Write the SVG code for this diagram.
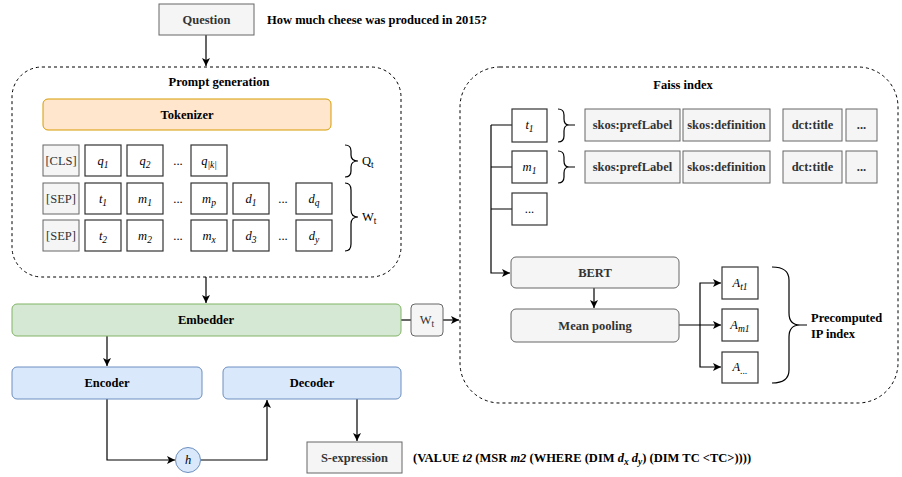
<svg xmlns="http://www.w3.org/2000/svg" width="902" height="477" viewBox="0 0 902 477">
<defs>
<marker id="arr" markerWidth="10" markerHeight="10" refX="9" refY="5" orient="auto" markerUnits="userSpaceOnUse">
<path d="M1,1 L9,5 L1,9 L3,5 z" fill="#000"/>
</marker>
<style>
text{font-family:"Liberation Serif","Times New Roman",serif;font-size:12.5px;fill:#000}
.b{font-weight:bold}
.c{text-anchor:middle}
.i{font-style:italic}
.g{fill:#333}
.sub{font-size:9.5px}
.gray{fill:#f5f5f5;stroke:#666;stroke-width:1}
.tok{fill:#fff;stroke:#333;stroke-width:1.2}
.dash{fill:none;stroke:#000;stroke-width:1;stroke-dasharray:3,3}
.ln{fill:none;stroke:#000;stroke-width:1.2}
.br{fill:none;stroke:#000;stroke-width:1.2}
</style>
</defs>
<rect width="902" height="477" fill="#fff"/>

<g id="connectors">
<path class="ln" d="M206,35 L206,66" marker-end="url(#arr)"/>
<path class="ln" d="M206,277 L206,303" marker-end="url(#arr)"/>
<path class="ln" d="M401,320 L411,320"/>
<path class="ln" d="M443,320 L459,320" marker-end="url(#arr)"/>
<path class="ln" d="M107,336 L107,366" marker-end="url(#arr)"/>
<path class="ln" d="M107,399 L107,460 L175,460" marker-end="url(#arr)"/>
<path class="ln" d="M201,460 L267,460 L267,400" marker-end="url(#arr)"/>
<path class="ln" d="M357,399 L357,441" marker-end="url(#arr)"/>
<path class="ln" d="M491,125 L491,273 L510,273" marker-end="url(#arr)"/>
<path class="ln" d="M491,125 L512,125 M491,167 L512,167 M491,209 L512,209"/>
<path class="ln" d="M594,288 L594,308" marker-end="url(#arr)"/>
<path class="ln" d="M679,325 L721,325" marker-end="url(#arr)"/>
<path class="ln" d="M700,325 L700,283 L721,283" marker-end="url(#arr)"/>
<path class="ln" d="M700,325 L700,367 L721,367" marker-end="url(#arr)"/>
</g>

<g id="question">
<rect class="gray" x="159" y="4" width="95" height="31"/>
<text class="b c g" x="206.5" y="24">Question</text>
</g>
<text class="b" x="267" y="24">How much cheese was produced in 2015?</text>

<g id="prompt-generation">
<rect class="dash" x="12" y="67" width="389" height="210" rx="30" ry="30"/>
<text class="b c" x="219" y="86">Prompt generation</text>
</g>

<g id="tokenizer">
<rect x="43" y="99" width="288" height="31" rx="5" fill="#ffe6cc" stroke="#d79b00" stroke-width="1"/>
<text class="b c" x="187" y="119">Tokenizer</text>
</g>

<g id="tokens">
<rect class="gray" x="43" y="145" width="36" height="31"/>
<text class="c g" x="61" y="165">[CLS]</text>
<rect class="tok" x="85" y="145" width="36" height="31"/>
<text class="c i" x="103" y="165">q<tspan class="sub" dy="3">1</tspan></text>
<rect class="tok" x="127" y="145" width="36" height="31"/>
<text class="c i" x="145" y="165">q<tspan class="sub" dy="3">2</tspan></text>
<text class="c" x="178" y="165">...</text>
<rect class="tok" x="191" y="145" width="36" height="31"/>
<text class="c i" x="209" y="165">q<tspan class="sub" dy="3">|k|</tspan></text>

<rect class="gray" x="43" y="183" width="36" height="31"/>
<text class="c g" x="61" y="203">[SEP]</text>
<rect class="tok" x="85" y="183" width="36" height="31"/>
<text class="c i" x="103" y="203">t<tspan class="sub" dy="3">1</tspan></text>
<rect class="tok" x="127" y="183" width="36" height="31"/>
<text class="c i" x="145" y="203">m<tspan class="sub" dy="3">1</tspan></text>
<text class="c" x="178" y="203">...</text>
<rect class="tok" x="191" y="183" width="36" height="31"/>
<text class="c i" x="209" y="203">m<tspan class="sub" dy="3">p</tspan></text>
<rect class="tok" x="233" y="183" width="36" height="31"/>
<text class="c i" x="251" y="203">d<tspan class="sub" dy="3">1</tspan></text>
<text class="c" x="283" y="203">...</text>
<rect class="tok" x="296" y="183" width="36" height="31"/>
<text class="c i" x="314" y="203">d<tspan class="sub" dy="3">q</tspan></text>

<rect class="gray" x="43" y="220" width="36" height="31"/>
<text class="c g" x="61" y="240">[SEP]</text>
<rect class="tok" x="85" y="220" width="36" height="31"/>
<text class="c i" x="103" y="240">t<tspan class="sub" dy="3">2</tspan></text>
<rect class="tok" x="127" y="220" width="36" height="31"/>
<text class="c i" x="145" y="240">m<tspan class="sub" dy="3">2</tspan></text>
<text class="c" x="178" y="240">...</text>
<rect class="tok" x="191" y="220" width="36" height="31"/>
<text class="c i" x="209" y="240">m<tspan class="sub" dy="3">x</tspan></text>
<rect class="tok" x="233" y="220" width="36" height="31"/>
<text class="c i" x="251" y="240">d<tspan class="sub" dy="3">3</tspan></text>
<text class="c" x="283" y="240">...</text>
<rect class="tok" x="296" y="220" width="36" height="31"/>
<text class="c i" x="314" y="240">d<tspan class="sub" dy="3">y</tspan></text>
</g>

<g id="brace-qt">
<path class="br" d="M345,145 Q351,145 351,151 L351,155 Q351,161 358,161 Q351,161 351,167 L351,171 Q351,177 345,177"/>
<text x="362" y="165">Q<tspan class="sub" dy="3">t</tspan></text>
</g>
<g id="brace-wt">
<path class="br" d="M345,183 Q351,183 351,190 L351,210 Q351,217 358,217 Q351,217 351,224 L351,244 Q351,251 345,251"/>
<text x="362" y="221">W<tspan class="sub" dy="3">t</tspan></text>
</g>

<g id="embedder">
<rect x="12" y="304" width="389" height="32" rx="5" fill="#d5e8d4" stroke="#82b366" stroke-width="1"/>
<text class="b c" x="206" y="324">Embedder</text>
</g>
<g id="wt-box">
<rect class="gray" x="411" y="304" width="32" height="32" rx="4"/>
<text class="c g" x="427" y="324">W<tspan class="sub" dy="3">t</tspan></text>
</g>

<g id="encoder">
<rect x="12" y="367" width="190" height="32" rx="5" fill="#dae8fc" stroke="#6c8ebf" stroke-width="1"/>
<text class="b c" x="107" y="387">Encoder</text>
</g>
<g id="decoder">
<rect x="223" y="367" width="178" height="32" rx="5" fill="#dae8fc" stroke="#6c8ebf" stroke-width="1"/>
<text class="b c" x="312" y="387">Decoder</text>
</g>
<g id="h">
<circle cx="188" cy="460" r="12.5" fill="#dae8fc" stroke="#6c8ebf" stroke-width="1"/>
<text class="c i" x="188" y="464">h</text>
</g>
<g id="s-expression">
<rect class="gray" x="307" y="442" width="95" height="31"/>
<text class="b c g" x="354.5" y="462">S-expression</text>
</g>
<text class="b" x="413" y="462">(VALUE <tspan class="i">t2</tspan> (MSR <tspan class="i">m2</tspan> (WHERE (DIM <tspan class="i">d</tspan><tspan class="sub i" dy="3">x</tspan><tspan dy="-3"> </tspan><tspan class="i">d</tspan><tspan class="sub i" dy="3">y</tspan><tspan dy="-3">) (DIM TC &lt;TC&gt;))))</tspan></text>

<g id="faiss-index">
<rect class="dash" x="460" y="67" width="438" height="336" rx="40" ry="40"/>
<text class="b c" x="683" y="89">Faiss index</text>
</g>

<g id="t1">
<rect class="tok" x="512" y="109" width="35" height="33"/>
<text class="c i" x="529.5" y="129">t<tspan class="sub" dy="3">1</tspan></text>
</g>
<g id="m1">
<rect class="tok" x="512" y="151" width="35" height="32"/>
<text class="c i" x="529.5" y="171">m<tspan class="sub" dy="3">1</tspan></text>
</g>
<g id="dots">
<rect class="tok" x="512" y="193" width="35" height="32"/>
<text class="c" x="529.5" y="213">...</text>
</g>

<g id="brace-t1">
<path class="br" d="M558,109 Q564,109 564,115 L564,119 Q564,125 569,125 L575,125 M569,125 Q564,125 564,131 L564,136 Q564,142 558,142"/>
</g>
<g id="brace-m1">
<path class="br" d="M558,151 Q564,151 564,157 L564,161 Q564,167 569,167 L575,167 M569,167 Q564,167 564,173 L564,177 Q564,183 558,183"/>
</g>

<g id="row-t1">
<rect class="gray" x="585" y="109" width="95" height="32"/>
<text class="b c g" x="632.5" y="129">skos:prefLabel</text>
<rect class="gray" x="683" y="109" width="87" height="32"/>
<text class="b c g" x="726.5" y="129">skos:definition</text>
<rect class="gray" x="783" y="109" width="59" height="32"/>
<text class="b c g" x="812.5" y="129">dct:title</text>
<rect class="gray" x="846" y="109" width="31" height="32"/>
<text class="b c g" x="861.5" y="129">...</text>
</g>
<g id="row-m1">
<rect class="gray" x="585" y="151" width="95" height="32"/>
<text class="b c g" x="632.5" y="171">skos:prefLabel</text>
<rect class="gray" x="683" y="151" width="87" height="32"/>
<text class="b c g" x="726.5" y="171">skos:definition</text>
<rect class="gray" x="783" y="151" width="59" height="32"/>
<text class="b c g" x="812.5" y="171">dct:title</text>
<rect class="gray" x="846" y="151" width="31" height="32"/>
<text class="b c g" x="861.5" y="171">...</text>
</g>

<g id="bert">
<rect class="gray" x="511" y="257" width="168" height="31" rx="5"/>
<text class="b c g" x="595" y="277">BERT</text>
</g>
<g id="mean-pooling">
<rect class="gray" x="511" y="309" width="168" height="33" rx="5"/>
<text class="b c g" x="595" y="330">Mean pooling</text>
</g>

<g id="a-t1">
<rect class="tok" x="722" y="267" width="36" height="32"/>
<text class="c i" x="740" y="287">A<tspan class="sub" dy="3">t1</tspan></text>
</g>
<g id="a-m1">
<rect class="tok" x="722" y="309" width="36" height="32"/>
<text class="c i" x="740" y="329">A<tspan class="sub" dy="3">m1</tspan></text>
</g>
<g id="a-dots">
<rect class="tok" x="722" y="352" width="36" height="31"/>
<text class="c i" x="740" y="371">A<tspan class="sub" dy="3">...</tspan></text>
</g>

<g id="brace-ip">
<path class="br" d="M772,267 Q789,267 789,280 L789,313 Q789,325 800,325 L807,325 M800,325 Q789,325 789,337 L789,370 Q789,383 772,383"/>
<text class="b" x="811" y="322">Precomputed</text>
<text class="b" x="811" y="338">IP index</text>
</g>
</svg>
